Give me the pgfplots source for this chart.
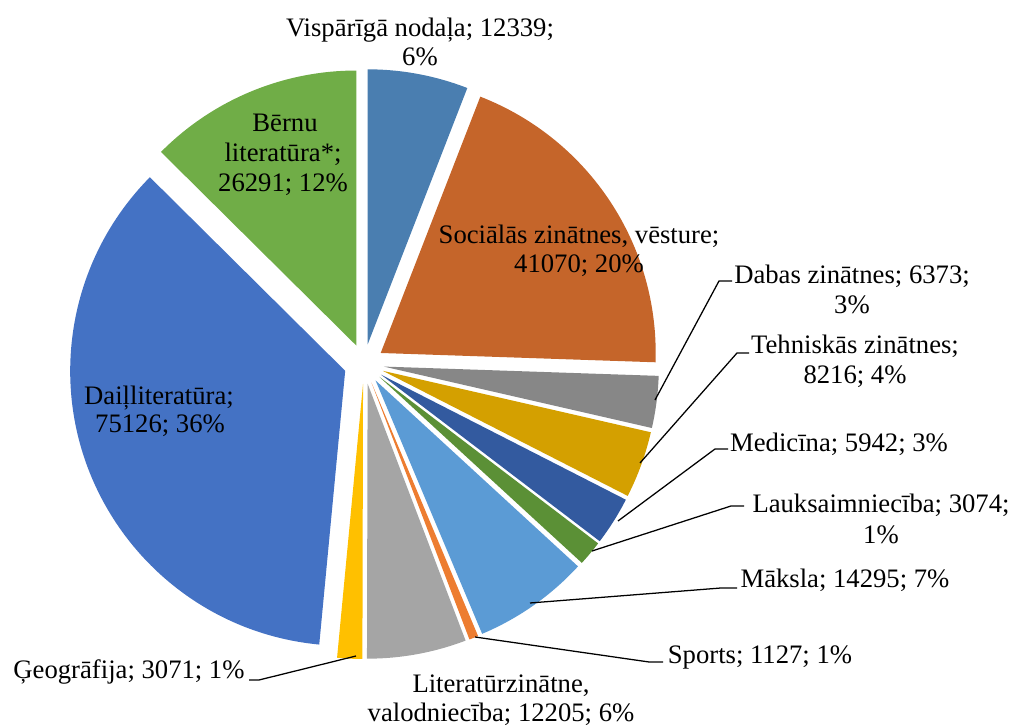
\documentclass[border=0pt]{standalone}
\usepackage{fontspec}
\setmainfont{Liberation Serif}
\usepackage{pgfplots}
\pgfplotsset{compat=1.18}
\usepackage{pgfplotstable}

\definecolor{pie0}{HTML}{4A7EB0}
\definecolor{pie1}{HTML}{C5652A}
\definecolor{pie2}{HTML}{878787}
\definecolor{pie3}{HTML}{D4A000}
\definecolor{pie4}{HTML}{335A9F}
\definecolor{pie5}{HTML}{5B9036}
\definecolor{pie6}{HTML}{5B9BD5}
\definecolor{pie7}{HTML}{ED7D31}
\definecolor{pie8}{HTML}{A5A5A5}
\definecolor{pie9}{HTML}{FFC000}
\definecolor{pie10}{HTML}{4472C4}
\definecolor{pie11}{HTML}{70AD47}

% slices clockwise from 12 o'clock
\pgfplotstableread{
value
12339
41070
6373
8216
5942
3074
14295
1127
12205
3071
75126
26291
}\piedata

\newcommand\pieCX{364}
\newcommand\pieCY{362}
\newcommand\pieD{20}

\xdef\total{0}
\pgfplotsforeachungrouped \i in {0,...,11}{%
  \pgfplotstablegetelem{\i}{value}\of\piedata
  \xdef\total{\fpeval{\total+\pgfplotsretval}}%
}
\xdef\run{0}
\pgfplotsforeachungrouped \i in {0,...,11}{%
  \pgfplotstablegetelem{\i}{value}\of\piedata
  \expandafter\xdef\csname pieS\i\endcsname{\fpeval{round(90-360*\run/\total,4)}}%
  \xdef\run{\fpeval{\run+\pgfplotsretval}}%
  \expandafter\xdef\csname pieE\i\endcsname{\fpeval{round(90-360*\run/\total,4)}}%
  \expandafter\xdef\csname pieX\i\endcsname{\fpeval{round(\pieCX+\pieD*cosd((\csname pieS\i\endcsname+\csname pieE\i\endcsname)/2),3)}}%
  \expandafter\xdef\csname pieY\i\endcsname{\fpeval{round(\pieCY+\pieD*sind((\csname pieS\i\endcsname+\csname pieE\i\endcsname)/2),3)}}%
}

\newcommand\lbl{\fontsize{20}{21.75}\selectfont}

\begin{document}
\begin{tikzpicture}
\begin{axis}[
  x=0.75pt, y=0.75pt,
  xmin=0, xmax=1014, ymin=0, ymax=726,
  hide axis, clip=false,
]
\path (axis cs:0,0) rectangle (axis cs:1014,726);
\pgfplotsinvokeforeach{0,...,11}{%
  \edef\temp{\noexpand\fill[pie#1] (axis cs:\csname pieX#1\endcsname,\csname pieY#1\endcsname) -- ++(\csname pieS#1\endcsname:206.25pt) arc[start angle=\csname pieS#1\endcsname,end angle=\csname pieE#1\endcsname,radius=206.25pt] -- cycle;}%
  \temp
}
% leader lines
\tikzset{lead/.style={black, line width=0.95pt}}
\draw[lead] (axis cs:732,445) -- (axis cs:719,445) -- (axis cs:655,326);
\draw[lead] (axis cs:749,373) -- (axis cs:737,373) -- (axis cs:640,263);
\draw[lead] (axis cs:728,277) -- (axis cs:715,277) -- (axis cs:618,205);
\draw[lead] (axis cs:744,220) -- (axis cs:731,220) -- (axis cs:592,175);
\draw[lead] (axis cs:737,138) -- (axis cs:721,138) -- (axis cs:530,123);
\draw[lead] (axis cs:663,64) -- (axis cs:649,64) -- (axis cs:475,89);
\draw[lead] (axis cs:249,46) -- (axis cs:259,46) -- (axis cs:356,70);
% labels
\tikzset{lab/.style={anchor=base, font=\lbl, inner sep=0pt, text=black}}
\node[lab] at (axis cs:420,689) {Vispārīgā nodaļa; 12339;};
\node[lab] at (axis cs:420,660) {6\%};
\node[lab] at (axis cs:579,482) {Sociālās zinātnes, vēsture;};
\node[lab] at (axis cs:579,453) {41070; 20\%};
\node[lab] at (axis cs:852,442) {Dabas zinātnes; 6373;};
\node[lab] at (axis cs:852,412) {3\%};
\node[lab] at (axis cs:855,372) {Tehniskās zinātnes;};
\node[lab] at (axis cs:855,342) {8216; 4\%};
\node[lab] at (axis cs:839,274) {Medicīna; 5942; 3\%};
\node[lab] at (axis cs:881,213) {Lauksaimniecība; 3074;};
\node[lab] at (axis cs:881,182) {1\%};
\node[lab] at (axis cs:845,138) {Māksla; 14295; 7\%};
\node[lab] at (axis cs:760,62) {Sports; 1127; 1\%};
\node[lab] at (axis cs:501,33) {Literatūrzinātne,};
\node[lab] at (axis cs:501,4) {valodniecība; 12205; 6\%};
\node[lab] at (axis cs:129,47) {Ģeogrāfija; 3071; 1\%};
\node[lab] at (axis cs:159,321) {Daiļliteratūra;};
\node[lab] at (axis cs:160,293) {75126; 36\%};
\node[lab] at (axis cs:285,594) {Bērnu};
\node[lab] at (axis cs:283,564) {literatūra*;};
\node[lab] at (axis cs:283,534) {26291; 12\%};
\end{axis}
\end{tikzpicture}
\end{document}
